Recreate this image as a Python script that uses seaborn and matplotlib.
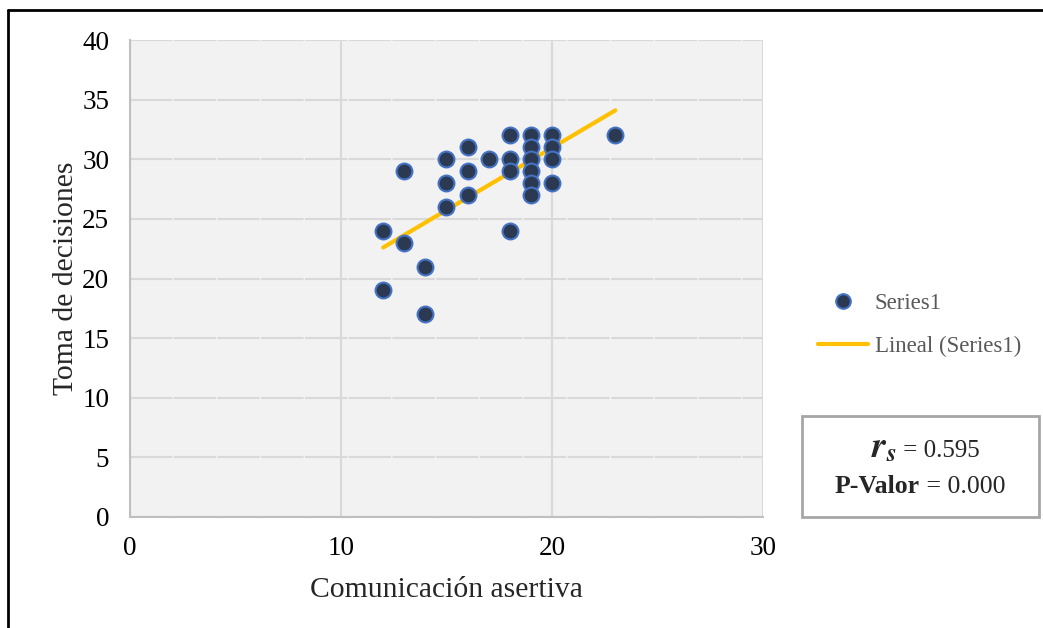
import matplotlib
matplotlib.use("Agg")
import matplotlib.pyplot as plt
import seaborn as sns
import pandas as pd
from matplotlib.lines import Line2D
from matplotlib.patches import Rectangle

# Data
comunicacion = [12, 12, 13, 13, 14, 14, 15, 15, 15, 16, 16, 16, 17, 18, 18, 18, 18,
                19, 19, 19, 19, 19, 19, 20, 20, 20, 20, 23]
decisiones = [24, 19, 29, 23, 21, 17, 30, 28, 26, 31, 29, 27, 30, 32, 30, 29, 24,
              32, 31, 30, 29, 28, 27, 32, 31, 30, 28, 32]
trend_x = [12, 23]
trend_y = [22.6, 34.1]
x_ticks = [0, 10, 20, 30]
y_ticks = [0, 5, 10, 15, 20, 25, 30, 35, 40]
rs_text = "0.595"
p_text = "0.000"

df = pd.DataFrame({"x": comunicacion, "y": decisiones})
trend_df = pd.DataFrame({"x": trend_x, "y": trend_y})

sns.set_style("white")
plt.rcParams["font.family"] = ["Liberation Serif", "DejaVu Serif"]
plt.rcParams["mathtext.fontset"] = "stix"

fig = plt.figure(figsize=(10.43, 6.28), dpi=100)
W, H = 1043, 628
ax = fig.add_axes([130 / W, 1 - 517 / H, (763 - 130) / W, (517 - 40) / H])
ax.set_facecolor("#F2F2F2")

# gridlines
ax.set_axisbelow(True)
ax.yaxis.grid(True, color="#D9D9D9", linewidth=1.5,
              linestyle=(0, (20.3, 0.7)))
ax.xaxis.grid(True, color="#D9D9D9", linewidth=1.5)

sns.lineplot(data=trend_df, x="x", y="y", ax=ax, color="#FFC000", linewidth=3,
             zorder=2, legend=False)
sns.scatterplot(data=df, x="x", y="y", ax=ax, s=130, color="#2B3A52",
                edgecolor="#4472C4", linewidth=1.5, zorder=3, legend=False)

ax.set_xlim(0, 30)
ax.set_ylim(0, 40)
ax.set_xticks(x_ticks)
ax.set_yticks(y_ticks)
ax.tick_params(axis="both", labelsize=19.5, labelcolor="black", color="#BFBFBF",
               direction="out", length=4, width=1.2)
ax.tick_params(axis="x", pad=10)
ax.tick_params(axis="y", pad=11)
for side in ["top", "right"]:
    ax.spines[side].set_visible(False)
for side in ["left", "bottom"]:
    ax.spines[side].set_color("#BFBFBF")
    ax.spines[side].set_linewidth(1.5)

ax.set_xlabel("Comunicación asertiva", fontsize=21.3, labelpad=11)
ax.set_ylabel("Toma de decisiones", fontsize=21.3, labelpad=2)

# legend
handles = [
    Line2D([], [], marker="o", linestyle="none", markersize=10.5,
           markerfacecolor="#2B3A52", markeredgecolor="#4472C4",
           markeredgewidth=1.5, label="Series1"),
    Line2D([], [], color="#FFC000", linewidth=3, label="Lineal (Series1)"),
]
fig.legend(handles=handles, loc="upper left",
           bbox_to_anchor=(818 / W, 1 - 293 / H), frameon=False,
           fontsize=16.5, labelcolor="#595959", handlelength=2.18,
           labelspacing=0.97, handletextpad=0.3, borderpad=0,
           borderaxespad=0)

# statistics box
fig.patches.append(Rectangle((802 / W, 1 - 517 / H), (1039 - 802) / W,
                             (517 - 416) / H, transform=fig.transFigure,
                             facecolor="white", edgecolor="#A6A6A6",
                             linewidth=2))
fig.text(897 / W, 1 - 457 / H, r"$\mathbfit{r}_{\mathbfit{s}}$",
         ha="right", va="baseline", fontsize=26)
fig.text(897 / W, 1 - 457 / H, " = " + rs_text,
         ha="left", va="baseline", fontsize=18)
fig.text(920 / W, 1 - 493 / H, "P-Valor", ha="right", va="baseline",
         fontsize=18.5, fontweight="bold")
fig.text(920 / W, 1 - 493 / H, " = " + p_text, ha="left", va="baseline",
         fontsize=18.5)

# outer frame (left and top border)
fig.add_artist(Line2D([8 / W, 8 / W], [0, 1 - 10 / H], color="black",
                      linewidth=2, transform=fig.transFigure))
fig.add_artist(Line2D([8 / W, 1], [1 - 10 / H, 1 - 10 / H], color="black",
                      linewidth=2, transform=fig.transFigure))

fig.savefig("out.png", dpi=100)
